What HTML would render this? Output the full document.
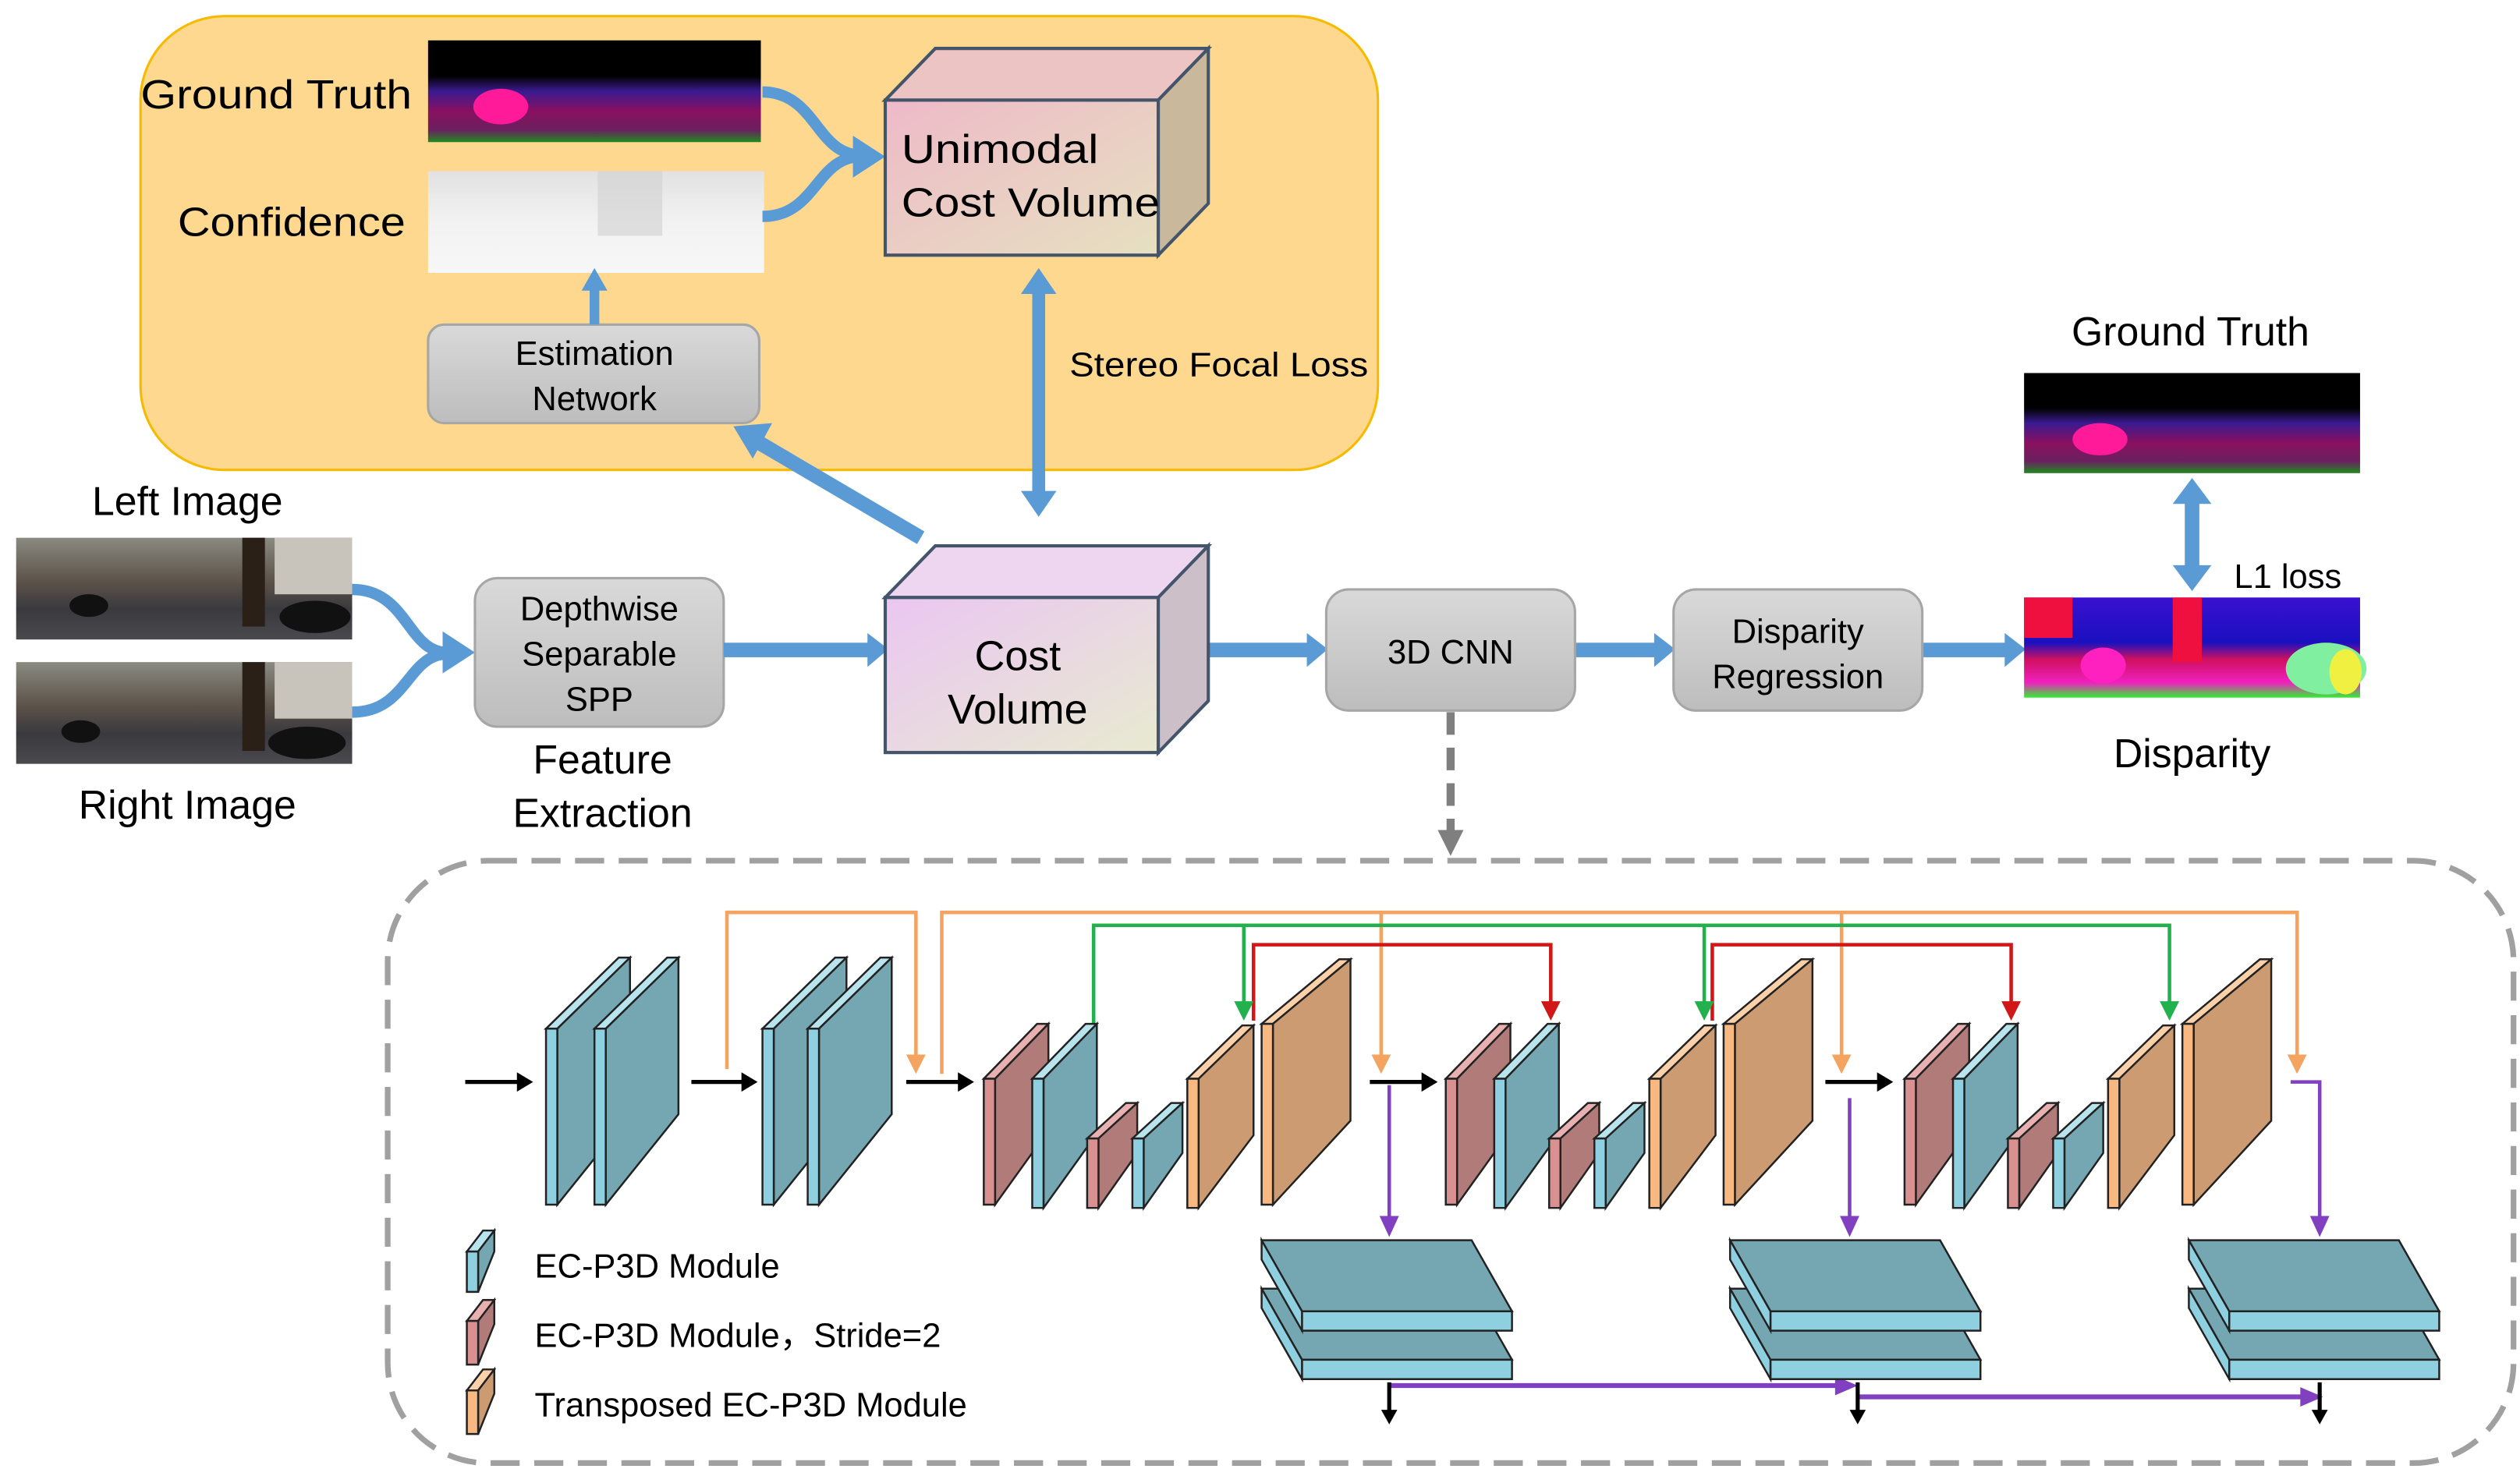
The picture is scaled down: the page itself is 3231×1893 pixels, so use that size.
<!DOCTYPE html>
<html><head><meta charset="utf-8"><style>
html,body{margin:0;padding:0;background:#fff;}
svg{display:block;}
text{font-family:"Liberation Sans",sans-serif;fill:#000;}
</style></head><body>
<svg id="s" width="3231" height="1893" viewBox="0 0 1560 914" preserveAspectRatio="none" xmlns="http://www.w3.org/2000/svg">
<defs>
<linearGradient id="gb" x1="0" y1="0" x2="0" y2="1"><stop offset="0" stop-color="#d9d9d9"/><stop offset="1" stop-color="#bdbdbd"/></linearGradient>
<linearGradient id="uni" x1="0" y1="0" x2="1" y2="1"><stop offset="0" stop-color="#eebac8"/><stop offset="1" stop-color="#e6e0c0"/></linearGradient>
<linearGradient id="cv" x1="0" y1="0" x2="1" y2="1"><stop offset="0" stop-color="#eac6f2"/><stop offset="1" stop-color="#e8ead0"/></linearGradient>
<linearGradient id="gt" x1="0" y1="0" x2="0" y2="1"><stop offset="0" stop-color="#000"/><stop offset="0.35" stop-color="#000"/><stop offset="0.5" stop-color="#3a1a90"/><stop offset="0.7" stop-color="#8a1060"/><stop offset="0.88" stop-color="#6a2060"/><stop offset="1" stop-color="#1f8a1f"/></linearGradient>
<linearGradient id="disp" x1="0" y1="0" x2="0" y2="1"><stop offset="0" stop-color="#3a10d0"/><stop offset="0.45" stop-color="#1a10c0"/><stop offset="0.62" stop-color="#d01060"/><stop offset="0.85" stop-color="#f020c0"/><stop offset="1" stop-color="#30f030"/></linearGradient>
<linearGradient id="conf" x1="0" y1="0" x2="0" y2="1"><stop offset="0" stop-color="#e2e2e2"/><stop offset="0.5" stop-color="#f2f2f2"/><stop offset="1" stop-color="#f7f7f7"/></linearGradient>
<linearGradient id="street" x1="0" y1="0" x2="0" y2="1"><stop offset="0" stop-color="#8a8a80"/><stop offset="0.45" stop-color="#5a5048"/><stop offset="0.7" stop-color="#3a3a3e"/><stop offset="1" stop-color="#4a4a4e"/></linearGradient>
</defs>

<!-- orange region -->
<rect x="87" y="10" width="766" height="281" rx="52" fill="#fed88f" stroke="#f6bb00" stroke-width="1.5"/>

<!-- GT top -->
<rect x="265" y="25" width="206" height="63" fill="url(#gt)"/>
<ellipse cx="310" cy="66" rx="17" ry="11" fill="#ff1a9a"/>
<text x="87" y="67" font-size="25" textLength="168" lengthAdjust="spacingAndGlyphs">Ground Truth</text>
<rect x="265" y="106" width="208" height="63" fill="url(#conf)"/>
<rect x="370" y="106" width="40" height="40" fill="#d0d0d0" opacity="0.6"/>
<text x="110" y="146" font-size="25" textLength="141" lengthAdjust="spacingAndGlyphs">Confidence</text>

<!-- curved arrows into unimodal -->
<g fill="none" stroke="#5b9bd5" stroke-width="7">
<path d="M472,57 C505,57 505,95 532,96"/>
<path d="M472,134 C505,134 505,98 532,97"/>
<path d="M218,365 C252,365 252,403 276,404"/>
<path d="M218,441 C252,441 252,406 276,405"/>
</g>
<polygon points="528,84 548,97 528,110" fill="#5b9bd5"/>
<polygon points="274,391 294,404 274,417" fill="#5b9bd5"/>

<!-- Unimodal cube -->
<polygon points="548,62 579,30 748,30 717,62" fill="#ecc4c4" stroke="#44546a" stroke-width="2"/>
<polygon points="717,62 748,30 748,126 717,158" fill="#c9b89c" stroke="#44546a" stroke-width="2"/>
<rect x="548" y="62" width="169" height="96" fill="url(#uni)" stroke="#44546a" stroke-width="2"/>
<text x="558" y="101" font-size="25" textLength="122" lengthAdjust="spacingAndGlyphs">Unimodal</text>
<text x="558" y="134" font-size="25" textLength="160" lengthAdjust="spacingAndGlyphs">Cost Volume</text>

<!-- Estimation network -->
<rect x="265" y="201" width="205" height="61" rx="10" fill="url(#gb)" stroke="#a6a6a6" stroke-width="1.5"/>
<text x="368" y="226" font-size="21" text-anchor="middle">Estimation</text>
<text x="368" y="254" font-size="21" text-anchor="middle">Network</text>
<line x1="368" y1="201" x2="368" y2="178" stroke="#5b9bd5" stroke-width="6"/>
<polygon points="360,180 368,166 376,180" fill="#5b9bd5"/>

<!-- stereo focal loss double arrow -->
<line x1="643" y1="180" x2="643" y2="306" stroke="#5b9bd5" stroke-width="8" />
<polygon points="632,182 643,166 654,182" fill="#5b9bd5"/>
<polygon points="632,304 643,320 654,304" fill="#5b9bd5"/>
<text x="662" y="233" font-size="21" textLength="185" lengthAdjust="spacingAndGlyphs">Stereo Focal Loss</text>

<!-- diagonal arrow -->
<line x1="570" y1="333" x2="468" y2="273" stroke="#5b9bd5" stroke-width="9"/>
<polygon points="454,264 478,262 466,284" fill="#5b9bd5"/>

<!-- left/right images -->
<text x="116" y="319" font-size="25" text-anchor="middle">Left Image</text>
<rect x="10" y="333" width="208" height="63" fill="url(#street)"/>
<rect x="150" y="333" width="14" height="55" fill="#2a2018"/>
<rect x="170" y="333" width="48" height="35" fill="#c8c4bc"/>
<ellipse cx="195" cy="382" rx="22" ry="10" fill="#111"/>
<ellipse cx="55" cy="375" rx="12" ry="7" fill="#111"/>
<rect x="10" y="410" width="208" height="63" fill="url(#street)"/>
<rect x="150" y="410" width="14" height="55" fill="#2a2018"/>
<rect x="170" y="410" width="48" height="35" fill="#c8c4bc"/>
<ellipse cx="190" cy="460" rx="24" ry="10" fill="#111"/>
<ellipse cx="50" cy="453" rx="12" ry="7" fill="#111"/>
<text x="116" y="507" font-size="25" text-anchor="middle">Right Image</text>

<!-- depthwise -->
<rect x="294" y="358" width="154" height="92" rx="14" fill="url(#gb)" stroke="#a6a6a6" stroke-width="1.5"/>
<text x="371" y="384" font-size="21" text-anchor="middle">Depthwise</text>
<text x="371" y="412" font-size="21" text-anchor="middle">Separable</text>
<text x="371" y="440" font-size="21" text-anchor="middle">SPP</text>
<text x="373" y="479" font-size="25" text-anchor="middle">Feature</text>
<text x="373" y="512" font-size="25" text-anchor="middle">Extraction</text>

<!-- horizontal blue arrows -->
<g fill="#5b9bd5">
<rect x="448" y="398" width="90" height="9"/><polygon points="537,392 550,402 537,413"/>
<rect x="748" y="398" width="62" height="9"/><polygon points="809,392 822,402 809,413"/>
<rect x="975" y="398" width="50" height="9"/><polygon points="1024,392 1037,402 1024,413"/>
<rect x="1190" y="398" width="52" height="9"/><polygon points="1241,392 1254,402 1241,413"/>
</g>

<!-- cost volume cube -->
<polygon points="548,370 579,338 748,338 717,370" fill="#eed6f0" stroke="#44546a" stroke-width="2"/>
<polygon points="717,370 748,338 748,434 717,466" fill="#cdbfc8" stroke="#44546a" stroke-width="2"/>
<rect x="548" y="370" width="169" height="96" fill="url(#cv)" stroke="#44546a" stroke-width="2"/>
<text x="630" y="415" font-size="26" text-anchor="middle">Cost</text>
<text x="630" y="448" font-size="26" text-anchor="middle">Volume</text>

<!-- 3D CNN & disparity regression -->
<rect x="821" y="365" width="154" height="75" rx="14" fill="url(#gb)" stroke="#a6a6a6" stroke-width="1.5"/>
<text x="898" y="411" font-size="21" text-anchor="middle">3D CNN</text>
<rect x="1036" y="365" width="154" height="75" rx="14" fill="url(#gb)" stroke="#a6a6a6" stroke-width="1.5"/>
<text x="1113" y="398" font-size="21" text-anchor="middle">Disparity</text>
<text x="1113" y="426" font-size="21" text-anchor="middle">Regression</text>

<!-- right GT / disparity -->
<text x="1356" y="214" font-size="25" text-anchor="middle">Ground Truth</text>
<rect x="1253" y="231" width="208" height="62" fill="url(#gt)"/>
<ellipse cx="1300" cy="272" rx="17" ry="10" fill="#ff1a9a"/>
<line x1="1357" y1="310" x2="1357" y2="352" stroke="#5b9bd5" stroke-width="9"/>
<polygon points="1345,312 1357,296 1369,312" fill="#5b9bd5"/>
<polygon points="1345,350 1357,366 1369,350" fill="#5b9bd5"/>
<text x="1383" y="364" font-size="21">L1 loss</text>
<rect x="1253" y="370" width="208" height="62" fill="url(#disp)"/>
<rect x="1253" y="370" width="30" height="25" fill="#f01040"/>
<rect x="1345" y="370" width="18" height="40" fill="#f01040"/>
<ellipse cx="1302" cy="412" rx="14" ry="11" fill="#ff20c0"/>
<ellipse cx="1440" cy="414" rx="25" ry="16" fill="#80f0a0"/>
<ellipse cx="1452" cy="416" rx="10" ry="14" fill="#f0f040"/>
<text x="1357" y="475" font-size="25" text-anchor="middle">Disparity</text>

<!-- dashed arrow -->
<line x1="898" y1="441" x2="898" y2="516" stroke="#7f7f7f" stroke-width="5" stroke-dasharray="14 8"/>
<polygon points="890,514 898,530 906,514" fill="#7f7f7f"/>

<!-- dashed frame -->
<rect x="240" y="533" width="1316" height="373" rx="62" fill="none" stroke="#a0a0a0" stroke-width="3.5" stroke-dasharray="18 9"/>

<!-- skip connections -->
<g fill="none" stroke-width="2.2">
<path d="M450,662 V565 H567 V655" stroke="#f4a460"/>
<path d="M583,665 V565 H1422 V655" stroke="#f4a460"/>
<path d="M855,565 V655 M1140,565 V655" stroke="#f4a460"/>
<path d="M677,634 V573 H1343 V622 M770,573 V622 M1055,573 V622" stroke="#22b14c"/>
<path d="M776,632 V585 H960 V622 M1060,632 V585 H1245 V622" stroke="#d01818"/>
<path d="M860,672 V755 M1145,680 V755 M1418,670 H1436 V755" stroke="#8040c0"/>
<path d="M860,858 H1138 M1150,865 H1426" stroke="#8040c0" stroke-width="3"/>
</g>
<g>
<polygon points="561,653 567,665 573,653" fill="#f4a460"/>
<polygon points="849,653 855,665 861,653" fill="#f4a460"/>
<polygon points="1134,653 1140,665 1146,653" fill="#f4a460"/>
<polygon points="1416,653 1422,665 1428,653" fill="#f4a460"/>
<polygon points="764,620 770,632 776,620" fill="#22b14c"/>
<polygon points="1049,620 1055,632 1061,620" fill="#22b14c"/>
<polygon points="1337,620 1343,632 1349,620" fill="#22b14c"/>
<polygon points="954,620 960,632 966,620" fill="#d01818"/>
<polygon points="1239,620 1245,632 1251,620" fill="#d01818"/>
<polygon points="854,753 860,766 866,753" fill="#8040c0"/>
<polygon points="1139,753 1145,766 1151,753" fill="#8040c0"/>
<polygon points="1430,753 1436,766 1442,753" fill="#8040c0"/>
<polygon points="1136,852 1150,858 1136,864" fill="#8040c0"/>
<polygon points="1424,859 1438,865 1424,871" fill="#8040c0"/>
</g>
<!-- black arrows -->
<g stroke="#000" stroke-width="2.5">
<line x1="288" y1="670" x2="322" y2="670"/><line x1="428" y1="670" x2="461" y2="670"/>
<line x1="561" y1="670" x2="595" y2="670"/><line x1="848" y1="670" x2="882" y2="670"/>
<line x1="1130" y1="670" x2="1164" y2="670"/>
<line x1="860" y1="856" x2="860" y2="874"/><line x1="1150" y1="856" x2="1150" y2="874"/><line x1="1436" y1="856" x2="1436" y2="874"/>
</g>
<g fill="#000">
<polygon points="320,664 330,670 320,676"/><polygon points="459,664 469,670 459,676"/>
<polygon points="593,664 603,670 593,676"/><polygon points="880,664 890,670 880,676"/>
<polygon points="1162,664 1172,670 1162,676"/>
<polygon points="855,873 860,882 865,873"/><polygon points="1145,873 1150,882 1155,873"/><polygon points="1431,873 1436,882 1441,873"/>
</g>

<g id="slabs"></g>

<!-- legend -->
<text x="331" y="791" font-size="21">EC-P3D Module</text>
<text x="331" y="834" font-size="21">EC-P3D Module，Stride=2</text>
<text x="331" y="877" font-size="21">Transposed EC-P3D Module</text>
</svg>
<script>
var g=document.getElementById('slabs');var NS='http://www.w3.org/2000/svg';
var C={b:['#8fd0e0','#74a7b1','#b8e4ee'],r:['#d89090','#b07b78','#e8b0b0'],o:['#f8b882','#cc9b72','#fcd0a8']};
function poly(p,f){var e=document.createElementNS(NS,'polygon');e.setAttribute('points',p);e.setAttribute('fill',f);e.setAttribute('stroke','#222');e.setAttribute('stroke-width','1.2');g.appendChild(e);}
function slab(x,yt,yb,dx,dy,c){var t=7;var k=C[c];
poly([x,yt,x+t,yt,x+t+dx,yt-dy,x+dx,yt-dy].join(','),k[2]);
poly([x+t,yb,x+t,yt,x+t+dx,yt-dy,x+t+dx,yb-dy-12].join(','),k[1]);
poly([x,yb,x,yt,x+t,yt,x+t,yb].join(','),k[0]);}
slab(338,637,746,45,44,'b');slab(368,637,746,45,44,'b');
slab(472,637,746,45,44,'b');slab(500,637,746,45,44,'b');
[0,286,570].forEach(function(o){
slab(609+o,668,746,33,34,'r');slab(639+o,668,748,33,34,'b');
slab(673+o,705,748,24,22,'r');slab(701+o,705,748,24,22,'b');
slab(735+o,668,748,34,33,'o');slab(781+o,634,746,48,40,'o');});
// legend icons
slab(289,775,800,10,13,'b');slab(289,818,845,10,13,'r');slab(289,861,888,10,13,'o');
// flat stacks
function plate(x,y){poly([x,y,x+130,y,x+155,y+44,x+25,y+44].join(','),'#74a7b1');
poly([x+25,y+44,x+155,y+44,x+155,y+56,x+25,y+56].join(','),'#8fd0e0');
poly([x,y,x+25,y+44,x+25,y+56,x,y+12].join(','),'#8fd0e0');}
[781,1071,1355].forEach(function(x){plate(x,798);plate(x,768);});
</script>
</body></html>
